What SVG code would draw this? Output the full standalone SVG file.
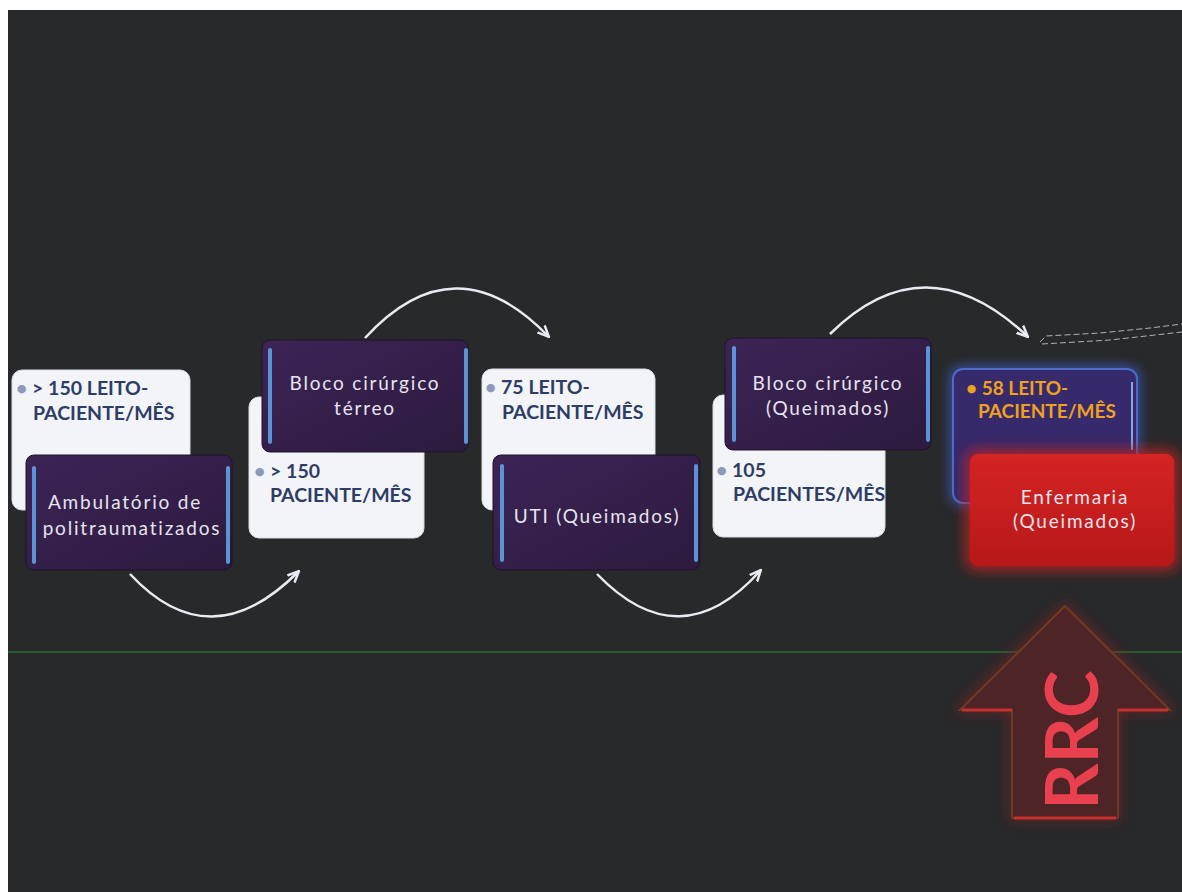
<svg xmlns="http://www.w3.org/2000/svg" width="1182" height="892" viewBox="0 0 1182 892">
<defs>
<style>
.wb{fill:#f3f4f7;stroke:#d8dce6;stroke-width:1}
.pb{fill:url(#pg);stroke:#1e1428;stroke-width:1}
.bar{stroke:#5c93d6;stroke-width:4;stroke-linecap:round}
.wt{font-family:Lato,"Noto Sans",sans-serif;font-weight:bold;font-size:19.5px;fill:#2d3d66}
.pt{font-family:Lato,"Noto Sans",sans-serif;font-size:19px;fill:#e6e4ee;letter-spacing:1.8px;text-anchor:middle}
.ot{font-family:Lato,"Noto Sans",sans-serif;font-weight:bold;font-size:19px;fill:#f0a020}
.arc{fill:none;stroke:#e8ecf2;stroke-width:2.5;marker-end:url(#ah)}
</style>
<linearGradient id="pg" x1="0" y1="0" x2="1" y2="1">
<stop offset="0" stop-color="#3c2456"/>
<stop offset="1" stop-color="#2c1a3e"/>
</linearGradient>
<linearGradient id="rg" x1="0" y1="0" x2="0" y2="1">
<stop offset="0" stop-color="#d42424"/>
<stop offset="1" stop-color="#b81818"/>
</linearGradient>
<marker id="ah" viewBox="0 0 10 10" refX="8" refY="5" markerWidth="5" markerHeight="5" orient="auto">
<path d="M0,1 L9,5 L0,9" fill="none" stroke="#e8ecf2" stroke-width="2"/>
</marker>
<filter id="blueglow" x="-20%" y="-20%" width="140%" height="140%">
<feGaussianBlur stdDeviation="6"/>
</filter>
<filter id="redglow" x="-20%" y="-20%" width="140%" height="140%">
<feGaussianBlur stdDeviation="7"/>
</filter>
</defs>
<rect x="0" y="0" width="1182" height="892" fill="#ffffff"/>
<rect x="8" y="10" width="1174" height="882" fill="#28292b"/>
<line x1="8" y1="652" x2="1182" y2="652" stroke="#2f8a3a" stroke-width="1"/>

<g id="connectors">
<path class="arc" d="M130,574 Q210,660 298,572"/>
<path class="arc" d="M365,338 Q455,240 548,336"/>
<path class="arc" d="M597,574 Q680,660 760,571"/>
<path class="arc" d="M830,334 Q925,240 1027,336"/>
<path d="M1040,342 L1046,336 L1100,333 L1150,328 L1182,324 M1042,344 L1110,340 L1182,332" fill="none" stroke="#cfd3da" stroke-width="1" stroke-dasharray="6 3" opacity="0.8"/>
</g>

<g id="node1">
<rect class="wb" x="12" y="370" width="178" height="140" rx="10"/>
<text class="wt" x="16" y="395"><tspan fill="#8a9ab8">•</tspan> &gt; 150 LEITO-</text>
<text class="wt" x="33" y="420">PACIENTE/MÊS</text>
<rect class="pb" x="26" y="455" width="206" height="115" rx="8"/>
<line class="bar" x1="34" y1="468" x2="34" y2="562"/>
<line class="bar" x1="228" y1="468" x2="228" y2="562"/>
<text class="pt" x="125" y="509">Ambulatório de</text>
<text class="pt" x="132" y="535">politraumatizados</text>
</g>

<g id="node2">
<rect class="wb" x="249" y="397" width="175" height="141" rx="10"/>
<text class="wt" x="254" y="478"><tspan fill="#8a9ab8">•</tspan> &gt; 150</text>
<text class="wt" x="270" y="502">PACIENTE/MÊS</text>
<rect class="pb" x="262" y="340" width="206" height="112" rx="8"/>
<line class="bar" x1="270" y1="350" x2="270" y2="442"/>
<line class="bar" x1="466" y1="350" x2="466" y2="442"/>
<text class="pt" x="365" y="390">Bloco cirúrgico</text>
<text class="pt" x="365" y="415">térreo</text>
</g>

<g id="node3">
<rect class="wb" x="482" y="369" width="173" height="141" rx="10"/>
<text class="wt" x="485" y="394"><tspan fill="#8a9ab8">•</tspan> 75 LEITO-</text>
<text class="wt" x="502" y="419">PACIENTE/MÊS</text>
<rect class="pb" x="493" y="455" width="207" height="115" rx="8"/>
<line class="bar" x1="502" y1="466" x2="502" y2="560"/>
<line class="bar" x1="696" y1="466" x2="696" y2="560"/>
<text class="pt" x="597" y="523">UTI (Queimados)</text>
</g>

<g id="node4">
<rect class="wb" x="713" y="395" width="172" height="142" rx="10"/>
<text class="wt" x="716" y="477"><tspan fill="#8a9ab8">•</tspan> 105</text>
<text class="wt" x="733" y="501">PACIENTES/MÊS</text>
<rect class="pb" x="725" y="338" width="206" height="112" rx="8"/>
<line class="bar" x1="734" y1="348" x2="734" y2="440"/>
<line class="bar" x1="928" y1="348" x2="928" y2="440"/>
<text class="pt" x="828" y="390">Bloco cirúrgico</text>
<text class="pt" x="828" y="415">(Queimados)</text>
</g>

<g id="node5">
<rect x="950" y="366" width="190" height="140" rx="12" fill="#3a5cc0" filter="url(#blueglow)" opacity="0.8"/>
<rect x="953" y="369" width="184" height="134" rx="10" fill="#362a6c" stroke="#4a6cc8" stroke-width="2"/>
<line x1="1132" y1="382" x2="1132" y2="450" stroke="#8aa8e0" stroke-width="2"/>
<text class="ot" x="966" y="395">• 58 LEITO-</text>
<text class="ot" x="978" y="418">PACIENTE/MÊS</text>
<rect x="966" y="450" width="212" height="120" rx="10" fill="#c02020" filter="url(#redglow)" opacity="0.9"/>
<rect x="970" y="454" width="204" height="112" rx="8" fill="url(#rg)"/>
<text class="pt" x="1075" y="504" fill="#f2e4e4">Enfermaria</text>
<text class="pt" x="1075" y="528" fill="#f2e4e4">(Queimados)</text>
</g>

<g id="rrc">
<path d="M1065,602 L1176,712 L1120,712 L1120,820 L1010,820 L1010,712 L954,712 Z" fill="#8a2020" filter="url(#redglow)" opacity="0.6"/>
<path d="M1065,606 L1170,710 L1118,710 L1118,818 L1012,818 L1012,710 L960,710 Z" fill="#4e2426" stroke="#6e3a22" stroke-width="2"/>
<line x1="962" y1="710" x2="1012" y2="710" stroke="#e03030" stroke-width="3" opacity="0.8"/>
<line x1="1118" y1="710" x2="1168" y2="710" stroke="#e03030" stroke-width="3" opacity="0.8"/>
<line x1="1014" y1="818" x2="1116" y2="818" stroke="#e03030" stroke-width="3" opacity="0.8"/>
<text x="0" y="0" transform="translate(1098,740) rotate(-90)" font-family="Lato,'Noto Sans',sans-serif" font-weight="bold" font-size="72" fill="#e8404e" text-anchor="middle">RRC</text>
</g>
</svg>
